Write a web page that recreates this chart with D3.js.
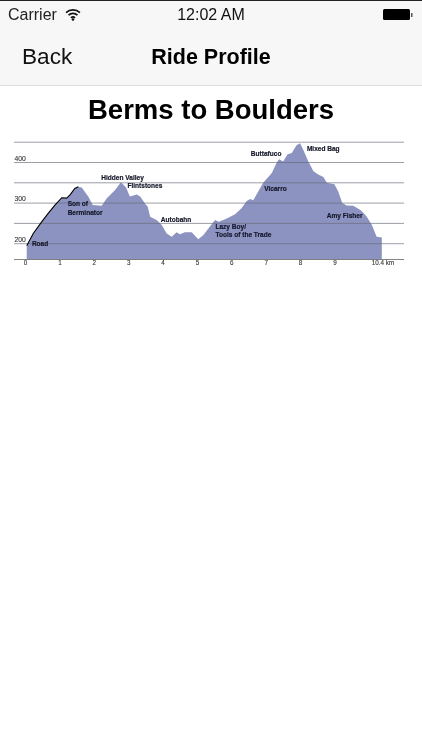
<!DOCTYPE html>
<html>
<head>
<meta charset="utf-8">
<script src="https://cdn.jsdelivr.net/npm/d3@7"></script>
<style>
html, body { margin: 0; padding: 0; background: #fff; }
svg { display: block; will-change: transform; }
</style>
</head>
<body>
<script>
// profile, km and metres
var distKm = [0.05,0.24,0.49,0.68,0.87,1.07,1.21,1.31,1.45,1.55,1.65,1.84,1.97,2.23,2.38,2.62,2.79,2.94,3.05,3.25,3.35,3.49,3.57,3.64,3.83,3.98,4.12,4.27,4.41,4.51,4.65,4.85,5.04,5.19,5.38,5.53,5.64,5.87,6.11,6.30,6.45,6.55,6.64,6.81,6.93,7.18,7.32,7.39,7.51,7.64,7.76,7.90,8.00,8.09,8.24,8.39,8.53,8.68,8.78,9.00,9.11,9.23,9.36,9.55,9.77,9.94,10.09,10.23,10.38];
var elevM = [194,224,253,274,294,312,311,319,335,339,337,315,294,292,311,331,350,337,315,320,315,298,290,265,257,245,224,216,227,222,227,227,210,220,241,257,253,261,271,286,304,309,306,331,349,373,398,407,401,419,422,441,446,431,402,377,369,363,349,345,328,299,293,292,281,266,245,216,214];
var roadEndKm = 1.55;

var kmTicks = [0,1,2,3,4,5,6,7,8,9,10.4];
var gridLevels = [200,250,300,350,400,450];
var elevLabels = [200,300,400];

var trailNames = ["Road","Son of","Berminator","Hidden Valley","Flintstones","Autobahn","Lazy Boy/","Tools of the Trade","Buttafuco","Vicarro","Mixed Bag","Amy Fisher"];
var trailKm = [0.2,1.24,1.24,2.22,2.98,3.95,5.54,5.54,6.57,6.96,8.2,8.78];
var trailElev = [193,292,269,356,336,252,235,215,415,329,427,262];

var width = 422, height = 750;
var sans = "'Liberation Sans', Arial, sans-serif";

var svg = d3.select("body").append("svg")
    .attr("width", width)
    .attr("height", height)
    .attr("viewBox", "0 0 " + width + " " + height);

// phone chrome
svg.append("rect").attr("width", width).attr("height", 85).attr("fill", "#f7f7f7");
svg.append("rect").attr("width", width).attr("height", 1).attr("fill", "#222");
svg.append("rect").attr("y", 85).attr("width", width).attr("height", 1).attr("fill", "#dcdcdc");

svg.append("text").attr("x", 8).attr("y", 20).text("Carrier")
    .style("font", "16px " + sans).attr("fill", "#222");
svg.append("text").attr("x", 211).attr("y", 20).attr("text-anchor", "middle").text("12:02 AM")
    .style("font", "16px " + sans).attr("fill", "#111");

var wifi = svg.append("g").attr("transform", "translate(73,20)");
[11, 7.4, 3.8].forEach(function (r) {
    wifi.append("path")
        .attr("d", d3.arc()({innerRadius: r - 1.7, outerRadius: r, startAngle: -0.75, endAngle: 0.75}))
        .attr("fill", "#111");
});
wifi.append("circle").attr("cy", -0.5).attr("r", 1.3).attr("fill", "#111");

svg.append("rect").attr("x", 383).attr("y", 9).attr("width", 27).attr("height", 11).attr("rx", 1.5).attr("fill", "#000");
svg.append("rect").attr("x", 411).attr("y", 13).attr("width", 1.5).attr("height", 4).attr("fill", "#555");

svg.append("text").attr("x", 22).attr("y", 64).text("Back")
    .style("font", "22.6px " + sans).attr("fill", "#111");
svg.append("text").attr("x", 211).attr("y", 64).attr("text-anchor", "middle").text("Ride Profile")
    .style("font", "bold 21.5px " + sans).attr("fill", "#000");
svg.append("text").attr("x", 211).attr("y", 119).attr("text-anchor", "middle").text("Berms to Boulders")
    .style("font", "bold 27.5px " + sans).attr("fill", "#000");

// chart
var x = d3.scaleLinear().domain([0, 10.4]).range([25, 382.5]);
var y = d3.scaleLinear().domain([200, 400]).range([243.2, 162]);
var baseY = 259.5;

var area = d3.area()
    .x(function (d) { return x(d[0]); })
    .y0(baseY)
    .y1(function (d) { return y(d[1]); });
var line = d3.line()
    .x(function (d) { return x(d[0]); })
    .y(function (d) { return y(d[1]); });

var profile = d3.zip(distKm, elevM);

svg.append("path").datum(profile).attr("d", area).attr("fill", "#8c93c0");

var gridAxis = d3.axisRight(y).tickValues(gridLevels).tickSize(390).tickFormat("");
var gridG = svg.append("g").attr("transform", "translate(14,0)").call(gridAxis);
gridG.select(".domain").remove();
gridG.selectAll("line").attr("stroke", "#666a78").attr("stroke-opacity", 0.65).attr("stroke-width", 1);

svg.append("path")
    .datum(profile.filter(function (d) { return d[0] <= roadEndKm; }))
    .attr("d", line)
    .attr("fill", "none")
    .attr("stroke", "#000")
    .attr("stroke-width", 1.1);

// baseline and distance labels
var xAxis = d3.axisBottom(x).tickValues(kmTicks).tickSize(0).tickPadding(1)
    .tickFormat(function (d) { return d === 10.4 ? "10.4 km" : d; });
var xG = svg.append("g").attr("transform", "translate(0," + baseY + ")").call(xAxis);
xG.select(".domain").remove();
xG.selectAll("text").style("font", "6.3px " + sans)
    .attr("fill", "#333").attr("stroke", "#333").attr("stroke-width", 0.1);

svg.append("line").attr("x1", 14).attr("x2", 404).attr("y1", baseY).attr("y2", baseY)
    .attr("stroke", "#777").attr("stroke-width", 0.9);

svg.selectAll("text.elev").data(elevLabels).enter().append("text")
    .attr("class", "elev")
    .attr("x", 14.5)
    .attr("y", function (d) { return y(d) - 1.5; })
    .text(function (d) { return d; })
    .style("font", "6.8px " + sans)
    .attr("fill", "#333").attr("stroke", "#333").attr("stroke-width", 0.1);

// squeezed bold text, the names on the original are condensed
svg.selectAll("text.trail").data(trailNames).enter().append("text")
    .attr("class", "trail")
    .attr("transform", function (d, i) {
        return "translate(" + x(trailKm[i]) + "," + y(trailElev[i]) + ") scale(0.875,1)";
    })
    .text(function (d) { return d; })
    .style("font", "bold 7.5px " + sans)
    .attr("fill", "#15172a").attr("stroke", "#15172a").attr("stroke-width", 0.2);
</script>
</body>
</html>
